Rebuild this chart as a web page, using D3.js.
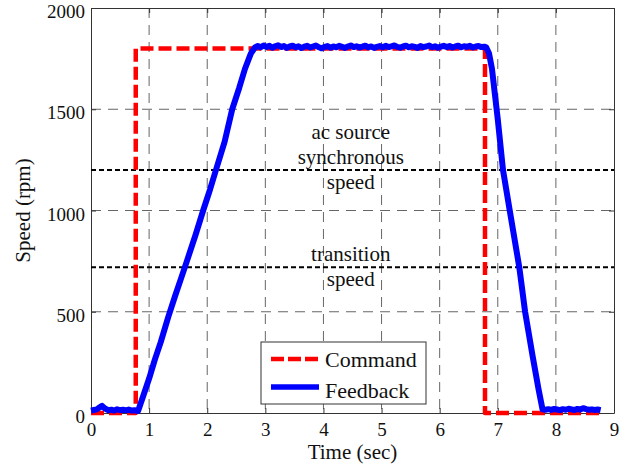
<!DOCTYPE html>
<html>
<head>
<meta charset="utf-8">
<script src="https://cdn.jsdelivr.net/npm/d3@7"></script>
<style>
body { margin: 0; background: #fff; }
text { font-family: "Liberation Serif", "Times New Roman", serif; fill: #111; }
</style>
</head>
<body>
<div id="chart"></div>
<script>
// time (sec) and speed (rpm)
var commandTime = [0, 0.77, 0.77, 6.78, 6.78, 8.77];
var commandRpm  = [0, 0, 1800, 1800, 0, 0];

var feedbackTime = [0, 0.05, 0.1, 0.15, 0.19, 0.24, 0.3, 0.35, 0.4, 0.45, 0.5, 0.55, 0.6, 0.65, 0.7, 0.75, 0.81,
    0.9, 1.0, 1.1, 1.2, 1.33, 1.45, 1.55, 1.65, 1.8, 1.93, 2.05, 2.15, 2.3, 2.43, 2.55, 2.65, 2.75, 2.82,
    2.87, 2.92, 2.97, 3.02, 3.07, 3.12, 3.17, 3.22, 3.27, 3.32, 3.37, 3.42, 3.47, 3.52, 3.57, 3.62, 3.67,
    3.72, 3.77, 3.82, 3.87, 3.92, 3.97, 4.02, 4.07, 4.12, 4.17, 4.22, 4.27, 4.32, 4.37, 4.42, 4.47, 4.52,
    4.57, 4.62, 4.67, 4.72, 4.77, 4.82, 4.87, 4.92, 4.97, 5.02, 5.07, 5.12, 5.17, 5.22, 5.27, 5.32, 5.37,
    5.42, 5.47, 5.52, 5.57, 5.62, 5.67, 5.72, 5.77, 5.82, 5.87, 5.92, 5.97, 6.02, 6.07, 6.12, 6.17, 6.22,
    6.27, 6.32, 6.37, 6.42, 6.47, 6.52, 6.57, 6.62, 6.67, 6.72, 6.77, 6.8,
    6.85, 6.9, 7.0, 7.09, 7.2, 7.37, 7.47, 7.6, 7.7, 7.77,
    7.82, 7.87, 7.92, 7.97, 8.02, 8.07, 8.12, 8.17, 8.22, 8.27, 8.32, 8.37, 8.42, 8.47, 8.52, 8.57,
    8.62, 8.67, 8.72, 8.77];
var feedbackRpm = [12, 15, 18, 28, 35, 22, 14, 16, 12, 18, 14, 16, 13, 17, 12, 14, 10,
    85, 170, 265, 350, 475, 580, 665, 750, 880, 1000, 1105, 1200, 1340, 1500, 1605, 1700, 1775, 1805,
    1812, 1806, 1815, 1808, 1813, 1804, 1811, 1816, 1807, 1812, 1803, 1810, 1814, 1806, 1811, 1802, 1809,
    1813, 1805, 1810, 1815, 1806, 1801, 1808, 1812, 1804, 1810, 1806, 1813, 1808, 1803, 1810, 1815, 1807,
    1811, 1805, 1809, 1814, 1806, 1810, 1803, 1808, 1812, 1806, 1813, 1807, 1811, 1815, 1808, 1804, 1810,
    1814, 1806, 1811, 1808, 1803, 1812, 1807, 1810, 1815, 1806, 1811, 1804, 1809, 1813, 1807, 1812, 1805,
    1810, 1814, 1806, 1811, 1808, 1813, 1805, 1810, 1812, 1807, 1809, 1806,
    1775, 1700, 1450, 1200, 1010, 720, 500, 280, 120, 18,
    16, 19, 15, 20, 17, 14, 19, 16, 21, 18, 15, 20, 17, 24, 19, 16, 18, 15, 17, 14];

var xTicks = [0, 1, 2, 3, 4, 5, 6, 7, 8, 9];
var yTicks = [0, 500, 1000, 1500, 2000];
var refSpeeds = [1200, 720];
var refLabels = [["ac source", "synchronous", "speed"], ["transition", "speed"]];
var legendNames = ["Command", "Feedback"];

var margin = {left: 91, top: 8, right: 18, bottom: 59};
var W = 632, H = 472;
var w = W - margin.left - margin.right;
var h = H - margin.top - margin.bottom;

var svg = d3.select("#chart").append("svg").attr("width", W).attr("height", H);
var g = svg.append("g").attr("transform", "translate(" + margin.left + "," + margin.top + ")");

var xScale = d3.scaleLinear().domain([0, 9]).range([0, w]);
var yScale = d3.scaleLinear().domain([0, 2000]).range([h, 0]);

var command = commandTime.map(function(t, i){ return {t: t, v: commandRpm[i]}; });
var feedback = feedbackTime.map(function(t, i){ return {t: t, v: feedbackRpm[i]}; });

// grid
g.append("g").selectAll("line").data(xTicks.slice(1, -1)).enter().append("line")
    .attr("x1", function(d){ return xScale(d); }).attr("x2", function(d){ return xScale(d); })
    .attr("y1", 0).attr("y2", h)
    .attr("stroke", "#666").attr("stroke-width", 1).attr("stroke-dasharray", "10,7");
g.append("g").selectAll("line").data(yTicks.slice(1, -1)).enter().append("line")
    .attr("y1", function(d){ return yScale(d); }).attr("y2", function(d){ return yScale(d); })
    .attr("x1", 0).attr("x2", w)
    .attr("stroke", "#666").attr("stroke-width", 1).attr("stroke-dasharray", "10,7");

// axes (box with inward ticks)
var xAxis = d3.axisBottom(xScale).tickValues(xTicks).tickFormat(d3.format("d"))
    .tickSizeInner(-5).tickSizeOuter(0).tickPadding(10);
var yAxis = d3.axisLeft(yScale).tickValues(yTicks).tickFormat(d3.format("d"))
    .tickSizeInner(-5).tickSizeOuter(0).tickPadding(6);
var xa = g.append("g").attr("transform", "translate(0," + h + ")").call(xAxis);
var ya = g.append("g").call(yAxis);
g.append("g").call(d3.axisTop(xScale).tickValues(xTicks).tickSizeInner(-5).tickSizeOuter(0).tickFormat(""));
g.append("g").attr("transform", "translate(" + w + ",0)")
    .call(d3.axisRight(yScale).tickValues(yTicks).tickSizeInner(-5).tickSizeOuter(0).tickFormat(""));
g.selectAll(".domain, .tick line").attr("stroke", "#333");
xa.selectAll("text").style("font-size", "19px").attr("fill", "#111");
ya.selectAll("text").style("font-size", "19px").attr("fill", "#111").attr("dy", "0.5em");

// reference speed lines
g.append("g").selectAll("line").data(refSpeeds).enter().append("line")
    .attr("x1", 0).attr("x2", w)
    .attr("y1", function(d){ return yScale(d); }).attr("y2", function(d){ return yScale(d); })
    .attr("stroke", "#000").attr("stroke-width", 2).attr("stroke-dasharray", "5,3");

// annotations
var annX = 4.47;
var annTop = [1353, 750];
refLabels.forEach(function(lines, k){
    var t = g.append("text").attr("text-anchor", "middle").style("font-size", "21px")
        .attr("x", xScale(annX)).attr("y", yScale(annTop[k]));
    lines.forEach(function(s, i){
        t.append("tspan").attr("x", xScale(annX)).attr("dy", i == 0 ? 0 : 25).text(s);
    });
});

var line = d3.line().x(function(d){ return xScale(d.t); }).y(function(d){ return yScale(d.v); });

g.append("path").datum(command).attr("d", line)
    .attr("fill", "none").attr("stroke", "#ff0000").attr("stroke-width", 4.5)
    .attr("stroke-dasharray", "13,5").attr("stroke-linejoin", "round");
g.append("path").datum(feedback).attr("d", line)
    .attr("fill", "none").attr("stroke", "#0000ff").attr("stroke-width", 6)
    .attr("stroke-linejoin", "round");

// legend
var lg = svg.append("g").attr("transform", "translate(261,342)");
lg.append("rect").attr("width", 165).attr("height", 62).attr("fill", "#fff").attr("stroke", "#333").attr("stroke-width", 1);
lg.append("line").attr("x1", 10).attr("x2", 58).attr("y1", 17).attr("y2", 17)
    .attr("stroke", "#ff0000").attr("stroke-width", 4.5).attr("stroke-dasharray", "13,4");
lg.append("line").attr("x1", 10).attr("x2", 58).attr("y1", 45).attr("y2", 45)
    .attr("stroke", "#0000ff").attr("stroke-width", 5.5);
lg.selectAll("text.lt").data(legendNames).enter().append("text")
    .attr("x", 64).attr("y", function(d, i){ return 25 + i * 31; })
    .style("font-size", "22px").text(function(d){ return d; });

// axis titles
svg.append("text").attr("text-anchor", "middle").style("font-size", "21px")
    .attr("x", margin.left + xScale(4.5)).attr("y", 459).text("Time (sec)");
svg.append("text").attr("text-anchor", "middle").style("font-size", "21px")
    .attr("transform", "translate(30," + (margin.top + h / 2) + ") rotate(-90)").text("Speed (rpm)");
</script>
</body>
</html>
